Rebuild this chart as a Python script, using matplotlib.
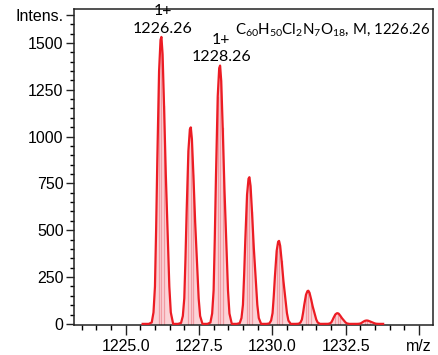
import numpy as np
import matplotlib
matplotlib.use("Agg")
import matplotlib.pyplot as plt

# isotope peaks (apex m/z, apex intensity)
peak_mz = [1226.22, 1227.22, 1228.22, 1229.22, 1230.23, 1231.23, 1232.23, 1233.23]
peak_int = [1532, 1049, 1379, 783, 443, 177, 57, 18]

# shape of one profile peak (offset in m/z, fraction of apex)
shape_dx = [-0.43, -0.33, -0.27, -0.22, -0.18, -0.14, -0.08, -0.03, 0.0,
            0.04, 0.09, 0.15, 0.21, 0.27, 0.32, 0.40]
shape_rel = [0.0, 0.005, 0.04, 0.13, 0.33, 0.57, 0.88, 0.99, 1.0,
             0.94, 0.76, 0.52, 0.32, 0.13, 0.04, 0.0]
stick_idx = [6, 8, 10]  # faint lines inside each peak

trace_start, trace_end = 1225.58, 1233.78

# labelled peaks
label_mz = [1226.26, 1228.26]
label_int = [1532, 1379]
label_txt = ['1+\n1226.26', '1+\n1228.26']

formula = r'C$_{60}$H$_{50}$Cl$_{2}$N$_{7}$O$_{18}$, M, 1226.26'

x_major = [1225.0, 1227.5, 1230.0, 1232.5, 1235.0]
x_labels = ['1225.0', '1227.5', '1230.0', '1232.5', 'm/z']
y_major = [0, 250, 500, 750, 1000, 1250, 1500, 1650]
y_labels = ['0', '250', '500', '750', '1000', '1250', '1500', 'Intens.']

plt.rcParams['font.family'] = ['Liberation Sans', 'DejaVu Sans']
plt.rcParams['mathtext.fontset'] = 'custom'
plt.rcParams['mathtext.rm'] = 'Lato'
plt.rcParams['mathtext.it'] = 'Lato'

red = '#ec1c24'
pink = '#fbd3d7'
stick = '#f29aa2'

fig = plt.figure(figsize=(4.39, 3.55), dpi=100)
ax = fig.add_axes([0.1686, 0.0845, 0.8177, 0.8901])

# build the profile trace
xs = [trace_start]
ys = [0.0]
for mz, h in zip(peak_mz, peak_int):
    px = np.array(shape_dx) + mz
    py = np.array(shape_rel) * h
    ax.fill_between(px, 0, py, color=pink, lw=0, zorder=1)
    for i in stick_idx:
        ax.plot([px[i], px[i]], [0, py[i]], color=stick, lw=0.9, zorder=2)
    xs.extend(px)
    ys.extend(py)
xs.append(trace_end)
ys.append(0.0)
ax.plot(xs, ys, color=red, lw=1.6, zorder=3)

for mz, h, t in zip(label_mz, label_int, label_txt):
    ax.annotate(t, (mz, h), xytext=(0, 1), textcoords='offset points',
                ha='center', va='bottom', fontsize=11.5, family='Lato',
                linespacing=1.3)

ax.text(0.992, 0.962, formula, transform=ax.transAxes, ha='right', va='top',
        fontsize=10.8, family='Lato')

ax.set_xlim(1223.24, 1235.48)
ax.set_ylim(-6, 1681)

ax.set_xticks(x_major)
ax.set_xticklabels(x_labels)
ax.set_xticks(np.arange(1223.5, 1235.5, 0.5), minor=True)
ax.set_yticks(y_major)
ax.set_yticklabels(y_labels)
ax.set_yticks(np.arange(0, 1700, 50), minor=True)

ax.tick_params(axis='both', which='major', labelsize=11.5, width=1.0,
               color='#222222')
ax.tick_params(axis='x', which='major', length=7, pad=3)
ax.tick_params(axis='x', which='minor', length=3.5, width=1.0)
ax.tick_params(axis='y', which='major', length=5.5, pad=2)
ax.tick_params(axis='y', which='minor', length=2.8, width=1.0)

for s in ax.spines.values():
    s.set_linewidth(1.1)
    s.set_color('#222222')

fig.savefig('out.png', dpi=100)
